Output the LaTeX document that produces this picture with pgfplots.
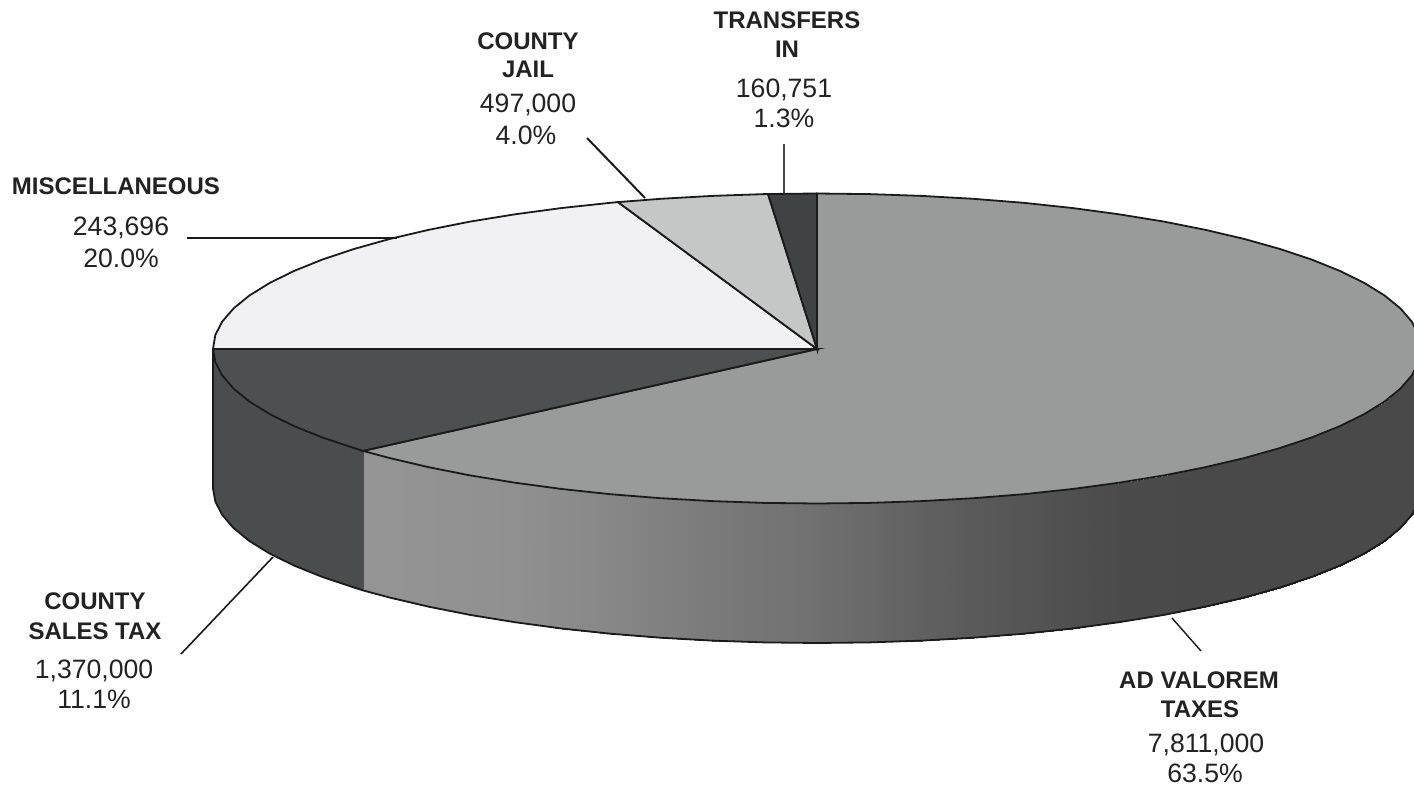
\documentclass[border=0pt]{standalone}
\usepackage{pgfplots}
\pgfplotsset{compat=1.18}
\usepackage{fontspec}
\setmainfont{Liberation Sans}
\definecolor{adtop}{HTML}{999B9B}
\definecolor{salestop}{HTML}{4D5050}
\definecolor{salesside}{HTML}{4A4D4E}
\definecolor{misc}{HTML}{F1F1F4}
\definecolor{jail}{HTML}{C5C7C7}
\definecolor{transfers}{HTML}{3F4344}
\definecolor{ink}{HTML}{1A1A1A}
\definecolor{txt}{HTML}{222222}
\tikzset{
  lbl/.style={anchor=base, font=\fontsize{12}{14}\selectfont\bfseries, text=txt, inner sep=0pt},
  val/.style={anchor=base, font=\fontsize{13.3}{15}\selectfont, text=txt, inner sep=0pt},
}
\begin{document}
\begin{tikzpicture}
\path (0,0) rectangle (707pt,394pt);
\begin{axis}[
  at={(0,0)}, anchor=south west,
  scale only axis, width=707pt, height=394pt,
  xmin=0, xmax=1414, ymin=0, ymax=788, y dir=reverse,
  hide axis,
  colormap={g}{gray(0cm)=(0); gray(1cm)=(1)},
  point meta min=0, point meta max=1,
]
% county sales tax side
\addplot[fill=salesside, draw=none] coordinates {
(363,450.9)(354.3,448.1)(322.2,437.4)(293.9,426)(269.6,414)(249.4,401.5)(233.6,388.6)(222.2,375.4)(215.3,362)(213,349)
(213,488.5)(215.3,501.5)(222.2,514.9)(233.6,528.1)(249.4,541)(269.6,553.5)(293.9,565.5)(322.2,576.9)(354.3,587.6)(363,590.4)} -- cycle;
% ad valorem side, shaded along the rim
\addplot[surf, shader=interp, mesh/rows=2, point meta=explicit] table[x=x, y=y, meta=c] {
x y c
363 450.9 .58
389.9 458.1 .58
428.8 467.2 .575
470.6 475.5 .57
515 482.7 .565
561.7 489 .55
610.4 494.2 .53
660.7 498.2 .505
712.1 501.1 .48
764.4 502.9 .46
817 503.5 .44
869.6 502.9 .41
921.9 501.1 .38
973.3 498.2 .35
1023.6 494.2 .335
1072.3 489 .31
1119 482.7 .295
1163.4 475.5 .29
1205.2 467.2 .285
1244.1 458.1 .285
1279.7 448.1 .285
1311.8 437.4 .285
1340.1 426 .285
1364.4 414 .285
1384.6 401.5 .285
1400.4 388.6 .285
1411.8 375.4 .285
1418.7 362 .285
1421 348.5 .285
363 590.4 .58
389.9 597.6 .58
428.8 606.7 .575
470.6 615 .57
515 622.2 .565
561.7 628.5 .55
610.4 633.7 .53
660.7 637.7 .505
712.1 640.6 .48
764.4 642.4 .46
817 643 .44
869.6 642.4 .41
921.9 640.6 .38
973.3 637.7 .35
1023.6 633.7 .335
1072.3 628.5 .31
1119 622.2 .295
1163.4 615 .29
1205.2 606.7 .285
1244.1 597.6 .285
1279.7 587.6 .285
1311.8 576.9 .285
1340.1 565.5 .285
1364.4 553.5 .285
1384.6 541 .285
1400.4 528.1 .285
1411.8 514.9 .285
1418.7 501.5 .285
1421 488 .285
};
% outline of the side
\addplot[ink, line width=0.9pt] coordinates {
(213,349)(213,488.5)(215.3,501.5)(222.2,514.9)(233.6,528.1)(249.4,541)(269.6,553.5)(293.9,565.5)(322.2,576.9)(354.3,587.6)(363,590.4)(389.9,597.6)(428.8,606.7)(470.6,615)(515,622.2)(561.7,628.5)(610.4,633.7)(660.7,637.7)(712.1,640.6)(764.4,642.4)(817,643)(869.6,642.4)(921.9,640.6)(973.3,637.7)(1023.6,633.7)(1072.3,628.5)(1119,622.2)(1163.4,615)(1205.2,606.7)(1244.1,597.6)(1279.7,587.6)(1311.8,576.9)(1340.1,565.5)(1364.4,553.5)(1384.6,541)(1400.4,528.1)(1411.8,514.9)(1418.7,501.5)(1421,488)};
\addplot[salesside, line width=0.5pt] coordinates {(363,450.9)(363,590.4)};
% top faces
\addplot[fill=adtop, draw=ink, line width=0.9pt] coordinates {
(817,349)(817,193.5)(869.6,194.1)(921.9,195.9)(973.3,198.8)(1023.6,202.8)(1072.3,208)(1119,214.3)(1163.4,221.5)(1205.2,229.8)(1244.1,238.9)(1279.7,248.9)(1311.8,259.6)(1340.1,271)(1364.4,283)(1384.6,295.5)(1400.4,308.4)(1411.8,321.6)(1418.7,335)(1421,348.5)(1418.7,362)(1411.8,375.4)(1400.4,388.6)(1384.6,401.5)(1364.4,414)(1340.1,426)(1311.8,437.4)(1279.7,448.1)(1244.1,458.1)(1205.2,467.2)(1163.4,475.5)(1119,482.7)(1072.3,489)(1023.6,494.2)(973.3,498.2)(921.9,501.1)(869.6,502.9)(817,503.5)(764.4,502.9)(712.1,501.1)(660.7,498.2)(610.4,494.2)(561.7,489)(515,482.7)(470.6,475.5)(428.8,467.2)(389.9,458.1)(363,450.9)} -- cycle;
\addplot[fill=salestop, draw=ink, line width=0.9pt] coordinates {
(817,349)(363,450.9)(354.3,448.1)(322.2,437.4)(293.9,426)(269.6,414)(249.4,401.5)(233.6,388.6)(222.2,375.4)(215.3,362)(213,349)} -- cycle;
\addplot[fill=misc, draw=ink, line width=0.9pt] coordinates {
(817,349)(213,349)(215.3,335)(222.2,321.6)(233.6,308.4)(249.4,295.5)(269.6,283)(293.9,271)(322.2,259.6)(354.3,248.9)(389.9,238.9)(428.8,229.8)(470.6,221.5)(515,214.3)(561.7,208)(610.4,202.8)(618,202.1)} -- cycle;
\addplot[fill=jail, draw=ink, line width=0.9pt] coordinates {
(817,349)(618,202.1)(660.7,198.8)(712.1,195.9)(764.4,194.1)(768,194)} -- cycle;
\addplot[fill=transfers, draw=ink, line width=0.9pt] coordinates {
(817,349)(768,194)(817,193.5)} -- cycle;
% leader lines
\addplot[ink!80!white, line width=0.6pt] coordinates {(784,144)(784,193)};
\addplot[ink, line width=1pt] coordinates {(587,138)(645,198)};
\addplot[ink, line width=0.8pt] coordinates {(187,238)(397,238)};
\addplot[ink, line width=0.8pt] coordinates {(273,557)(181,654)};
\addplot[ink, line width=0.7pt] coordinates {(1172,618)(1201,651)};
% labels
\node[lbl] at (axis cs:787,28) {TRANSFERS};
\node[lbl] at (axis cs:787,57) {IN};
\node[val] at (axis cs:784,97) {160,751};
\node[val] at (axis cs:784,127) {1.3\%};
\node[lbl] at (axis cs:528,49) {COUNTY};
\node[lbl] at (axis cs:528,77) {JAIL};
\node[val] at (axis cs:528,112) {497,000};
\node[val] at (axis cs:526,144) {4.0\%};
\node[lbl] at (axis cs:116,194) {MISCELLANEOUS};
\node[val] at (axis cs:121,235) {243,696};
\node[val] at (axis cs:121,267) {20.0\%};
\node[lbl] at (axis cs:95,609) {COUNTY};
\node[lbl] at (axis cs:95,639) {SALES TAX};
\node[val] at (axis cs:94,678) {1,370,000};
\node[val] at (axis cs:94,708) {11.1\%};
\node[lbl] at (axis cs:1199,688) {AD VALOREM};
\node[lbl] at (axis cs:1200,717) {TAXES};
\node[val] at (axis cs:1206,752) {7,811,000};
\node[val] at (axis cs:1205,782) {63.5\%};
\end{axis}
\end{tikzpicture}
\end{document}
